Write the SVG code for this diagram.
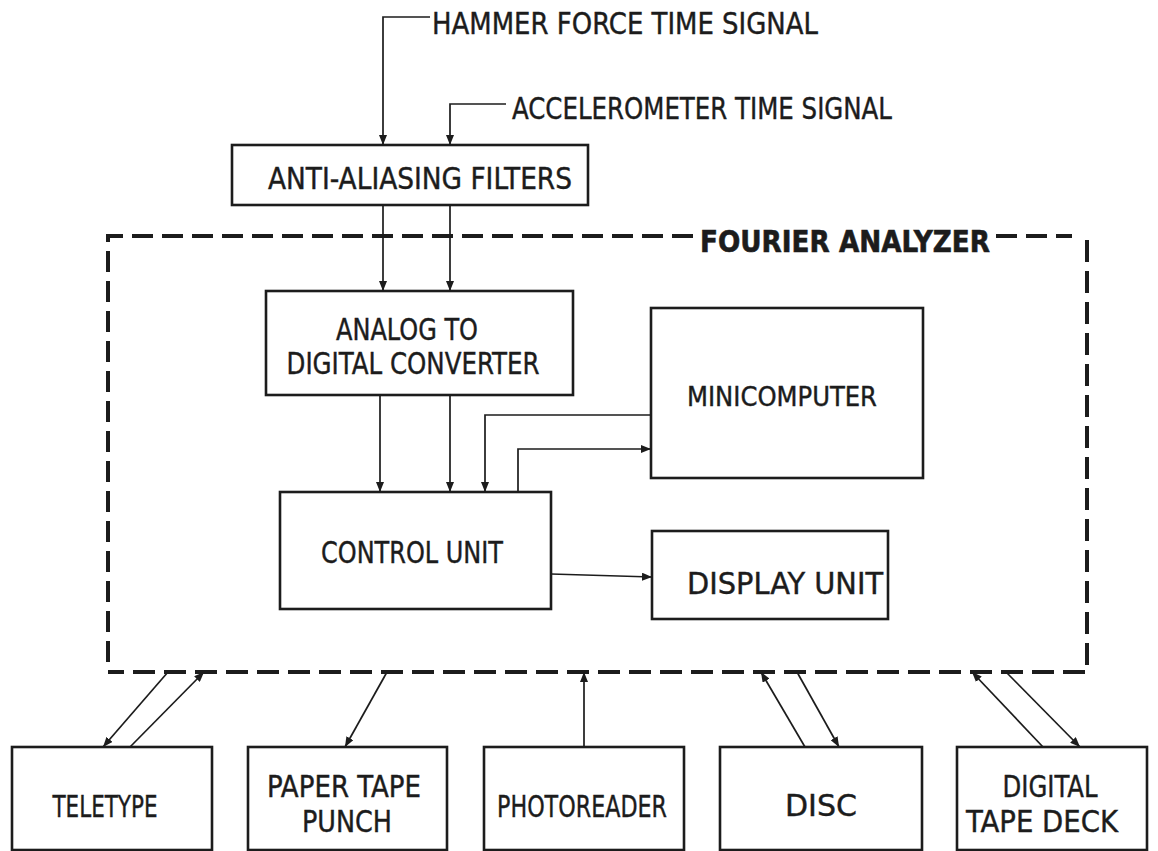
<svg xmlns="http://www.w3.org/2000/svg" width="1158" height="851" viewBox="0 0 1158 851">
<defs>
<marker id="ah" viewBox="0 0 10 8" refX="10" refY="4" markerWidth="10" markerHeight="8" markerUnits="userSpaceOnUse" orient="auto">
<path d="M0,0 L10,4 L0,8 z" fill="#1c1c1c"/>
</marker>
</defs>
<style>
.box{fill:#fff;stroke:#1c1c1c;stroke-width:2.6}
.t{font-family:"Liberation Sans Narrow","DejaVu Sans Condensed","Liberation Sans",sans-serif;font-size:31px;fill:#1c1c1c;stroke:#1c1c1c;stroke-width:0.4;text-anchor:middle}
.tl{font-family:"Liberation Sans Narrow","DejaVu Sans Condensed","Liberation Sans",sans-serif;font-size:31px;fill:#1c1c1c;stroke:#1c1c1c;stroke-width:0.4}
.b{font-weight:bold;stroke-width:0.6}
.c{fill:none;stroke:#1c1c1c;stroke-width:1.7}
.a{marker-end:url(#ah)}
.d{fill:none;stroke:#1c1c1c;stroke-width:4}
</style>
<rect width="1158" height="851" fill="#fff"/>

<g id="fourier-analyzer">
<path class="d" d="M108,662 L108,236 L695,236" stroke-dasharray="21 9"/>
<path class="d" d="M996,236 L1072,236" stroke-dasharray="21 9"/>
<path class="d" d="M1087,240 L1087,672 L108,672" stroke-dasharray="22 9"/>
<text class="tl b" x="700" y="252" textLength="290" lengthAdjust="spacingAndGlyphs">FOURIER ANALYZER</text>
</g>

<g id="signals">
<text class="tl" x="432" y="34" textLength="386" lengthAdjust="spacingAndGlyphs">HAMMER FORCE TIME SIGNAL</text>
<text class="tl" x="512" y="119" textLength="380" lengthAdjust="spacingAndGlyphs">ACCELEROMETER TIME SIGNAL</text>
</g>

<g id="filters">
<rect class="box" x="232" y="145" width="356" height="60"/>
<text class="t" x="420" y="189" textLength="304" lengthAdjust="spacingAndGlyphs">ANTI-ALIASING FILTERS</text>
</g>

<g id="adc">
<rect class="box" x="266" y="291" width="307" height="104"/>
<text class="t" x="407" y="340" textLength="142" lengthAdjust="spacingAndGlyphs">ANALOG TO</text>
<text class="t" x="413" y="374" textLength="253" lengthAdjust="spacingAndGlyphs">DIGITAL CONVERTER</text>
</g>

<g id="minicomputer">
<rect class="box" x="651" y="308" width="272" height="170"/>
<text class="t" x="782" y="406" textLength="190" lengthAdjust="spacingAndGlyphs" style="font-size:27px">MINICOMPUTER</text>
</g>

<g id="control-unit">
<rect class="box" x="280" y="492" width="271" height="117"/>
<text class="t" x="412" y="563" textLength="182" lengthAdjust="spacingAndGlyphs">CONTROL UNIT</text>
</g>

<g id="display-unit">
<rect class="box" x="652" y="531" width="236" height="88"/>
<text class="t" x="785" y="594" textLength="196" lengthAdjust="spacingAndGlyphs">DISPLAY UNIT</text>
</g>

<g id="teletype">
<rect class="box" x="12" y="747" width="200" height="103"/>
<text class="t" x="105" y="817" textLength="105" lengthAdjust="spacingAndGlyphs">TELETYPE</text>
</g>

<g id="paper-tape-punch">
<rect class="box" x="248" y="747" width="199" height="103"/>
<text class="t" x="344" y="797" textLength="154" lengthAdjust="spacingAndGlyphs">PAPER TAPE</text>
<text class="t" x="347" y="832" textLength="90" lengthAdjust="spacingAndGlyphs">PUNCH</text>
</g>

<g id="photoreader">
<rect class="box" x="484" y="747" width="200" height="103"/>
<text class="t" x="582" y="817" textLength="170" lengthAdjust="spacingAndGlyphs">PHOTOREADER</text>
</g>

<g id="disc">
<rect class="box" x="720" y="747" width="202" height="103"/>
<text class="t" x="821" y="816" textLength="72" lengthAdjust="spacingAndGlyphs">DISC</text>
</g>

<g id="digital-tape-deck">
<rect class="box" x="957" y="747" width="190" height="103"/>
<text class="t" x="1050" y="797" textLength="95" lengthAdjust="spacingAndGlyphs">DIGITAL</text>
<text class="t" x="1042" y="832" textLength="152" lengthAdjust="spacingAndGlyphs">TAPE DECK</text>
</g>

<g id="connectors">
<path class="c a" d="M430,17 L383,17 L383,145"/>
<path class="c a" d="M506,104 L450,104 L450,145"/>
<path class="c a" d="M383,205 L383,291"/>
<path class="c a" d="M450,205 L450,291"/>
<path class="c a" d="M380,395 L380,492"/>
<path class="c a" d="M450,395 L450,492"/>
<path class="c a" d="M651,415 L485,415 L485,492"/>
<path class="c a" d="M518,492 L518,449 L651,449"/>
<path class="c a" d="M551,574 L652,577"/>
<path class="c a" d="M168,672 L103,747"/>
<path class="c a" d="M130,747 L204,672"/>
<path class="c a" d="M387,672 L345,747"/>
<path class="c a" d="M584,747 L584,672"/>
<path class="c a" d="M805,747 L761,672"/>
<path class="c a" d="M797,672 L839,747"/>
<path class="c a" d="M1043,747 L972,672"/>
<path class="c a" d="M1006,672 L1080,747"/>
</g>
</svg>
